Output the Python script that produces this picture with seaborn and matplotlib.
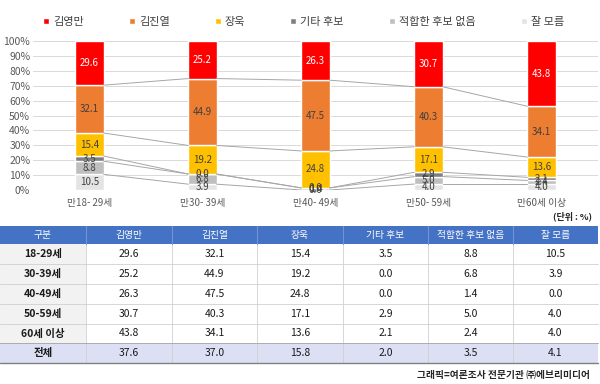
import matplotlib
matplotlib.use("Agg")
import matplotlib.pyplot as plt
from matplotlib.patches import Rectangle
from matplotlib.lines import Line2D
import seaborn as sns
import numpy as np
import pandas as pd

sns.set_theme(style="white")
plt.rcParams['font.family'] = ['Noto Sans CJK KR', 'DejaVu Sans']

categories = ["만18- 29세", "만30- 39세", "만40- 49세", "만50- 59세", "만60세 이상"]
series_names = ["김영만", "김진열", "장욱", "기타 후보", "적합한 후보 없음", "잘 모름"]
kim_ym = [29.6, 25.2, 26.3, 30.7, 43.8]
kim_jy = [32.1, 44.9, 47.5, 40.3, 34.1]
jang = [15.4, 19.2, 24.8, 17.1, 13.6]
etc = [3.5, 0.0, 0.0, 2.9, 2.1]
none_fit = [8.8, 6.8, 1.4, 5.0, 2.4]
dont_know = [10.5, 3.9, 0.0, 4.0, 4.0]

table_rows = ["18-29세", "30-39세", "40-49세", "50-59세", "60세 이상", "전체"]
table_vals = [
    [29.6, 32.1, 15.4, 3.5, 8.8, 10.5],
    [25.2, 44.9, 19.2, 0.0, 6.8, 3.9],
    [26.3, 47.5, 24.8, 0.0, 1.4, 0.0],
    [30.7, 40.3, 17.1, 2.9, 5.0, 4.0],
    [43.8, 34.1, 13.6, 2.1, 2.4, 4.0],
    [37.6, 37.0, 15.8, 2.0, 3.5, 4.1],
]

colors = {"김영만": "#FF0000", "김진열": "#ED7D31", "장욱": "#FFC000",
          "기타 후보": "#7F7F7F", "적합한 후보 없음": "#BFBFBF", "잘 모름": "#E4E4E4"}

series = {"김영만": kim_ym, "김진열": kim_jy, "장욱": jang,
          "기타 후보": etc, "적합한 후보 없음": none_fit, "잘 모름": dont_know}

W, H = 600, 384
fig = plt.figure(figsize=(6, 3.84), dpi=100)

# background pixel axes for table/text
axt = fig.add_axes([0, 0, 1, 1])
axt.set_xlim(0, W)
axt.set_ylim(H, 0)
axt.axis("off")

ax = fig.add_axes([33 / W, 1 - 190 / H, 565 / W, 149 / H])
ax.set_zorder(2)
ax.patch.set_alpha(0)

# stacking order bottom -> top
stack_order = ["잘 모름", "적합한 후보 없음", "기타 후보", "장욱", "김진열", "김영만"]
totals = np.sum([series[s] for s in stack_order], axis=0)
bottom = np.zeros(len(categories))
bw = 0.25
bounds = []
for s in stack_order:
    vals = np.array(series[s]) / totals * 100
    df = pd.DataFrame({"cat": categories, "v": vals})
    sns.barplot(data=df, x="cat", y="v", bottom=bottom, color=colors[s],
                width=bw, ax=ax, saturation=1, zorder=3)
    for i, (raw, v) in enumerate(zip(series[s], vals)):
        tc = "white" if s == "김영만" else "#404040"
        ax.text(i, bottom[i] + v / 2, f"{raw:.1f}", ha="center", va="center",
                fontsize=7, color=tc, zorder=5)
    bottom = bottom + vals
    bounds.append(bottom.copy())

# series lines
for b in bounds[:-1]:
    for i in range(len(categories) - 1):
        ax.plot([i + bw / 2, i + 1 - bw / 2], [b[i], b[i + 1]], color="#A6A6A6",
                lw=0.7, zorder=4)

ax.set_xlim(-0.5, len(categories) - 0.5)
ax.set_ylim(0, 100)
ax.set_yticks(np.arange(0, 101, 10))
ax.set_yticklabels([f"{v}%" for v in range(0, 101, 10)], fontsize=7.5, color="#595959")
ax.yaxis.grid(True, color="#D9D9D9", lw=0.7, zorder=0)
ax.set_axisbelow(True)
ax.set_xlabel("")
ax.set_ylabel("")
ax.tick_params(axis="x", labelsize=7, colors="#595959", length=0, pad=6)
ax.tick_params(axis="y", length=0, pad=2)
for sp in ax.spines.values():
    sp.set_visible(False)

# legend
handles = [Line2D([0], [0], marker="s", color="w", markerfacecolor=colors[s],
                  markersize=5, linestyle="") for s in series_names]
fig.legend(handles, series_names, loc="center", bbox_to_anchor=(0.503, 1 - 22 / H),
           ncol=6, frameon=False, fontsize=8, handletextpad=0.05,
           handlelength=1.2, columnspacing=3.7, labelcolor="#404040")

# unit
axt.text(592, 216, "(단위 : %)", ha="right", va="center", fontsize=6.5,
         fontweight="bold", color="#262626")

# table
col_edges = [0, 86, 172, 257, 343, 428, 513, 598]
header = ["구분"] + series_names
y_head = (226, 244)
row_edges = [244, 264, 284, 304, 324, 343, 363]

axt.add_patch(Rectangle((0, y_head[0]), 598, y_head[1] - y_head[0],
                        facecolor="#4472C4", edgecolor="none"))
for j, h in enumerate(header):
    cx = (col_edges[j] + col_edges[j + 1]) / 2
    axt.text(cx, sum(y_head) / 2, h, ha="center", va="center", fontsize=7,
             color="white")
for j in range(1, len(col_edges) - 1):
    axt.plot([col_edges[j]] * 2, [y_head[0], row_edges[-1]], color="#D0D0D0",
             lw=0.6)
    axt.plot([col_edges[j]] * 2, [y_head[0], y_head[1]], color="#6E93D6", lw=0.8)

for r, name in enumerate(table_rows):
    y0, y1 = row_edges[r], row_edges[r + 1]
    if r == len(table_rows) - 1:
        axt.add_patch(Rectangle((0, y0), 598, y1 - y0, facecolor="#DDE0F4",
                                edgecolor="none", zorder=0))
    else:
        axt.add_patch(Rectangle((0, y0), 86, y1 - y0, facecolor="#F2F2F2",
                                edgecolor="none", zorder=0))
    axt.text(43, (y0 + y1) / 2, name, ha="center", va="center", fontsize=7.5,
             fontweight="bold", color="#1A1A1A")
    for j, v in enumerate(table_vals[r]):
        cx = (col_edges[j + 1] + col_edges[j + 2]) / 2
        axt.text(cx, (y0 + y1) / 2, f"{v:.1f}", ha="center", va="center",
                 fontsize=7.5, color="#1A1A1A")
    axt.plot([0, 598], [y1, y1], color="#D0D0D0", lw=0.6)
axt.plot([0, 598], [row_edges[-2], row_edges[-2]], color="#A6A6A6", lw=0.6)
axt.plot([0, 598], [row_edges[-1], row_edges[-1]], color="#808080", lw=1.0)

axt.text(590, 375, "그래픽=여론조사 전문기관 ㈜에브리미디어", ha="right", va="center",
         fontsize=7, fontweight="bold", color="#262626")

fig.savefig("out.png", dpi=100)
